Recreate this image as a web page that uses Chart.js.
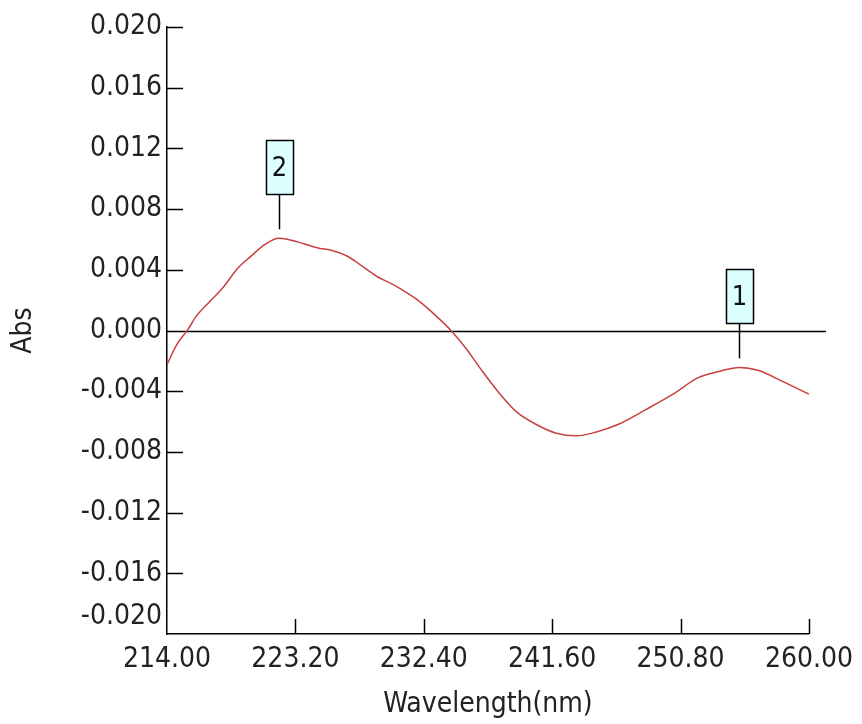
<!doctype html>
<html lang="en">
  <head>
    <meta charset="utf-8">
    <title>Abs vs Wavelength</title>
    <script src="https://cdn.jsdelivr.net/npm/chart.js@4.4.1/dist/chart.umd.min.js"></script>
    <style>
      body { margin: 0; background: #fff; }
      #wrap { width: 862px; height: 724px; }
    </style>
  </head>
  <body>
    <div id="wrap"><canvas id="spectrum" width="862" height="724"></canvas></div>
    <script>
    // spectrum (nm, Abs)
    const wavelengths = [214.0, 214.7, 215.5, 216.1, 217.1, 218.0, 219.1, 219.9, 221.1, 222.0,
                         222.6, 223.8, 224.9, 225.7, 226.9, 227.8, 229.0, 230.4, 231.9, 233.3,
                         234.4, 235.4, 236.6, 237.8, 239.0, 240.5, 241.9, 243.3, 244.7, 246.4,
                         248.3, 250.2, 252.1, 253.6, 255.0, 256.4, 258.1, 260.0];
    const absorbance = [-0.00225, -0.00093, 0.00007, 0.00095, 0.00194, 0.00282, 0.00414, 0.0048, 0.00572, 0.00608,
                        0.00602, 0.00572, 0.00542, 0.00531, 0.00491, 0.00436, 0.00359, 0.00293, 0.00205, 0.00095,
                        -0.00005, -0.00115, -0.00269, -0.00412, -0.00533, -0.00621, -0.00677, -0.00694, -0.0067, -0.00616,
                        -0.00522, -0.00423, -0.00309, -0.00269, -0.00243, -0.00264, -0.00335, -0.00419];

    // picked peaks
    const peakLabels = ["1", "2"];
    const peakWavelengths = [255.0, 222.0];
    const peakValues = [-0.00243, 0.00608];

    const xTicks = [214, 223.2, 232.4, 241.6, 250.8, 260];
    const yTicks = [-0.020, -0.016, -0.012, -0.008, -0.004, 0.000, 0.004, 0.008, 0.012, 0.016, 0.020];

    const FONT = '"DejaVu Sans Condensed", "DejaVu Sans", sans-serif';
    const points = wavelengths.map((w, i) => ({x: w, y: absorbance[i]}));

    // inward tick marks, zero line and the peak flags
    const decorations = {
      id: 'decorations',
      beforeDatasetsDraw(chart) {
        const {ctx, chartArea, scales: {x, y}} = chart;
        ctx.save();
        ctx.strokeStyle = '#000';
        ctx.lineWidth = 1.5;
        ctx.beginPath();
        // no mark at the corner
        yTicks.slice(1).forEach(v => {
          const py = Math.round(y.getPixelForValue(v)) + 0.5;
          ctx.moveTo(chartArea.left, py);
          ctx.lineTo(chartArea.left + 16, py);
        });
        xTicks.slice(1).forEach(v => {
          const px = Math.round(x.getPixelForValue(v)) + 0.5;
          ctx.moveTo(px, chartArea.bottom);
          ctx.lineTo(px, chartArea.bottom - 15);
        });
        // baseline at 0 runs a bit past the plot
        const zy = Math.round(y.getPixelForValue(0)) + 0.5;
        ctx.moveTo(chartArea.left, zy);
        ctx.lineTo(chartArea.right + 17, zy);
        ctx.stroke();
        ctx.restore();
      },
      afterDatasetsDraw(chart) {
        const {ctx, scales: {x, y}} = chart;
        ctx.save();
        peakLabels.forEach((lbl, i) => {
          const px = Math.round(x.getPixelForValue(peakWavelengths[i])) + 0.5;
          const py = y.getPixelForValue(peakValues[i]);
          ctx.strokeStyle = '#000';
          ctx.lineWidth = 1.5;
          ctx.beginPath();
          ctx.moveTo(px, py - 9);
          ctx.lineTo(px, py - 44);
          ctx.stroke();
          const bw = 27, bh = 54;
          const bx = Math.round(px - bw / 2) + 0.5, by = Math.round(py - 44 - bh) + 0.5;
          ctx.fillStyle = '#dcffff';
          ctx.fillRect(bx, by, bw, bh);
          ctx.strokeRect(bx, by, bw, bh);
          ctx.fillStyle = '#111';
          ctx.font = '27px ' + FONT;
          ctx.textAlign = 'center';
          ctx.textBaseline = 'middle';
          ctx.fillText(lbl, px, by + bh / 2 + 1);
        });
        ctx.restore();
      }
    };

    const chart = new Chart(document.getElementById('spectrum'), {
      type: 'line',
      data: {
        datasets: [{
          data: points,
          borderColor: '#c84040',
          borderWidth: 1.5,
          pointRadius: 0,
          tension: 0.4,
          cubicInterpolationMode: 'monotone',
          fill: false
        }]
      },
      options: {
        responsive: false,
        animation: false,
        layout: { padding: { top: 27, right: 52, left: 0, bottom: 0 } },
        plugins: {
          legend: { display: false },
          tooltip: { enabled: false }
        },
        scales: {
          x: {
            type: 'linear',
            min: 214,
            max: 260,
            afterBuildTicks: s => { s.ticks = xTicks.map(v => ({value: v})); },
            afterFit: s => { s.height = 90; },
            grid: { display: false, drawTicks: false },
            border: { display: true, color: '#000', width: 1.5 },
            ticks: {
              color: '#222',
              font: { family: FONT, size: 28 },
              padding: 9,
              maxRotation: 0,
              autoSkip: false,
              callback: v => v.toFixed(2)
            },
            title: {
              display: true,
              text: 'Wavelength(nm)',
              color: '#222',
              font: { family: FONT, size: 28 },
              padding: { top: 0, bottom: 2 }
            }
          },
          y: {
            min: -0.02,
            max: 0.02,
            afterBuildTicks: s => { s.ticks = yTicks.map(v => ({value: v})); },
            afterFit: s => { s.width = 167; },
            grid: { display: false, drawTicks: false },
            border: { display: true, color: '#000', width: 1.5 },
            ticks: {
              color: '#222',
              font: { family: FONT, size: 28 },
              padding: 5,
              autoSkip: false,
              // the bottom label sits a little above the x axis
              callback: (v, i) => i === 0 ? [v.toFixed(3), ''] : v.toFixed(3)
            },
            title: {
              display: true,
              text: 'Abs',
              color: '#222',
              font: { family: FONT, size: 28 },
              padding: { top: 7, bottom: 0 }
            }
          }
        }
      },
      plugins: [decorations]
    });
    </script>
  </body>
</html>
